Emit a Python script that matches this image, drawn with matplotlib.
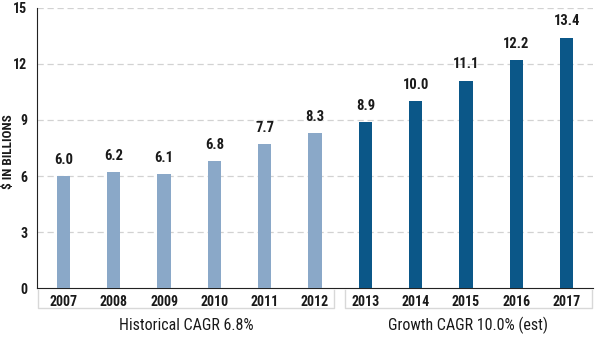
import matplotlib
matplotlib.use("Agg")
import matplotlib.pyplot as plt
import matplotlib.transforms as mtransforms
from matplotlib import font_manager

years = ["2007", "2008", "2009", "2010", "2011", "2012",
         "2013", "2014", "2015", "2016", "2017"]
values = [6.0, 6.2, 6.1, 6.8, 7.7, 8.3, 8.9, 10.0, 11.1, 12.2, 13.4]
value_labels = ["6.0", "6.2", "6.1", "6.8", "7.7", "8.3", "8.9", "10.0", "11.1", "12.2", "13.4"]
historical_n = 6
group_labels = ["Historical CAGR 6.8%", "Growth CAGR 10.0% (est)"]
yticks = [0, 3, 6, 9, 12, 15]

light = "#8aa8c8"
dark = "#0b5788"
txt = "#1a1a1a"

names = {f.name for f in font_manager.fontManager.ttflist}
fam = []
for n in ["Roboto Condensed", "Liberation Sans Narrow", "DejaVu Sans Condensed"]:
    if n in names:
        fam.append(n)
fam.append("DejaVu Sans")
narrow = fam[0] != "DejaVu Sans"
plt.rcParams['font.family'] = fam
fs = 10 if narrow else 8.5

fig = plt.figure(figsize=(6.0, 3.45), dpi=100)
ax = fig.add_axes([0.062, 0.165, 0.926, 0.812])

x = list(range(len(years)))
colors = [light if i < historical_n else dark for i in x]
ax.bar(x, values, width=0.26, color=colors, zorder=3)

for xi, v, lab in zip(x, values, value_labels):
    ax.text(xi, v + 0.5, lab, ha='center', va='bottom', fontsize=fs + 0.5,
            color=txt, fontweight='bold')

ax.set_xlim(-0.52, len(years) - 1 + 0.52)
ax.set_ylim(0, 15)
ax.set_yticks(yticks)
ax.set_yticklabels([str(t) for t in yticks], fontsize=fs, color=txt, fontweight='bold')
ax.set_xticks(x)
ax.set_xticklabels(years, fontsize=fs, color=txt, fontweight='bold')
ax.tick_params(axis='both', length=0)
ax.tick_params(axis='y', pad=7)
ax.tick_params(axis='x', pad=5)

for yv in yticks[1:]:
    ax.axhline(yv, color="#d2d2d2", linestyle=(0, (5, 3)), linewidth=0.9, zorder=1)

for s in ['top', 'right']:
    ax.spines[s].set_visible(False)
ax.spines['left'].set_color('#222222')
ax.spines['bottom'].set_color('#222222')

fig.text(9 / 600, 1 - 152 / 345, "$ IN BILLIONS", rotation=90, ha='center', va='center',
         fontsize=fs - 0.5, color=txt, fontweight='bold')

trans = mtransforms.blended_transform_factory(ax.transData, ax.transAxes)
groups = [(-0.50, historical_n - 1 + 0.37), (historical_n - 1 + 0.59, len(years) - 1 + 0.51)]
ytop, ybot = -0.008, -0.072
for (a, b), lab in zip(groups, group_labels):
    ax.plot([a, a, b, b], [ytop, ybot, ybot, ytop], transform=trans, color="#d8d8d8",
            linewidth=1.0, clip_on=False)
    ax.text((a + b) / 2, -0.132, lab, transform=trans, ha='center', va='center',
            fontsize=fs + 1.5, color=txt)

fig.savefig("out.png", dpi=100)
